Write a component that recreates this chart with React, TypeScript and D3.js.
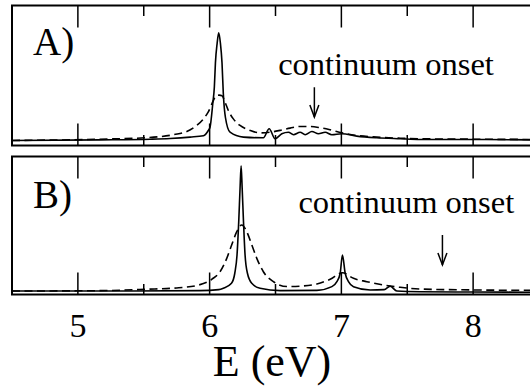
import React, { useEffect, useRef } from 'react';
import * as d3 from 'd3';

// energies (eV) and intensities (fraction of panel height)
const aSolid: [number, number][] = [
  [4.5, 0.036], [5.168, 0.04], [5.548, 0.045], [5.7, 0.05], [5.852, 0.06], [5.953, 0.07],
  [5.99, 0.107], [6.003, 0.13], [6.024, 0.3], [6.036, 0.42], [6.044, 0.59], [6.057, 0.73],
  [6.069, 0.805], [6.082, 0.73], [6.094, 0.59], [6.104, 0.37], [6.12, 0.2], [6.155, 0.095],
  [6.256, 0.06], [6.408, 0.055], [6.452, 0.12], [6.497, 0.048], [6.548, 0.084], [6.598, 0.095],
  [6.636, 0.077], [6.687, 0.095], [6.725, 0.077], [6.776, 0.1], [6.826, 0.084], [6.877, 0.095],
  [6.927, 0.077], [7.003, 0.084], [7.117, 0.067], [7.269, 0.055], [7.446, 0.048], [7.598, 0.043],
  [7.993, 0.043], [8.5, 0.04],
];

const aDashed: [number, number][] = [
  [4.5, 0.036], [5.168, 0.045], [5.51, 0.055], [5.73, 0.078], [5.827, 0.1], [5.902, 0.143],
  [5.953, 0.19], [5.99, 0.24], [6.028, 0.32], [6.049, 0.356], [6.072, 0.36], [6.094, 0.356],
  [6.117, 0.31], [6.142, 0.25], [6.18, 0.19], [6.231, 0.143], [6.307, 0.108], [6.383, 0.09],
  [6.459, 0.095], [6.535, 0.108], [6.611, 0.124], [6.687, 0.136], [6.763, 0.136], [6.839, 0.127],
  [6.915, 0.112], [7.003, 0.091], [7.117, 0.072], [7.269, 0.06], [7.446, 0.052], [7.598, 0.048],
  [7.993, 0.045], [8.5, 0.043],
];

const bSolid: [number, number][] = [
  [4.5, 0.025], [5.168, 0.025], [5.927, 0.028], [6.069, 0.035], [6.104, 0.045], [6.166, 0.081],
  [6.191, 0.154], [6.208, 0.286], [6.221, 0.53], [6.231, 0.77], [6.239, 0.933], [6.247, 0.77],
  [6.257, 0.53], [6.269, 0.286], [6.287, 0.154], [6.32, 0.081], [6.383, 0.045], [6.535, 0.028],
  [6.814, 0.03], [6.928, 0.057], [6.966, 0.093], [6.991, 0.154], [7.008, 0.286], [7.029, 0.154],
  [7.054, 0.093], [7.092, 0.057], [7.218, 0.033], [7.325, 0.035], [7.37, 0.06], [7.421, 0.025],
  [7.598, 0.02], [7.993, 0.018], [8.5, 0.016],
];

const bDashed: [number, number][] = [
  [4.5, 0.025], [5.168, 0.028], [5.512, 0.038], [5.766, 0.049], [5.918, 0.069], [6.016, 0.11],
  [6.079, 0.165], [6.13, 0.262], [6.168, 0.36], [6.206, 0.455], [6.244, 0.504], [6.282, 0.455],
  [6.32, 0.36], [6.358, 0.262], [6.408, 0.165], [6.484, 0.093], [6.586, 0.058], [6.712, 0.062],
  [6.814, 0.076], [6.915, 0.11], [7.008, 0.158], [7.092, 0.117], [7.193, 0.093], [7.319, 0.069],
  [7.446, 0.052], [7.598, 0.04], [7.993, 0.033], [8.5, 0.03],
];

const majorTicks = [5, 6, 7, 8];
const minorTicks = [4.5, 5.5, 6.5, 7.5, 8.5];
const tickLabels = ['5', '6', '7', '8'];

const panels = [
  { label: 'A)', solid: aSolid, dashed: aDashed, top: 5.5, bottom: 145.5, onsetE: 6.795, arrow: [0.416, 0.203], textE: 6.52, textY: 0.502 },
  { label: 'B)', solid: bSolid, dashed: bDashed, top: 156.5, bottom: 294.5, onsetE: 7.767, arrow: [0.431, 0.214], textE: 6.674, textY: 0.593 },
];

const App = () => {
  const svgRef = useRef<SVGSVGElement>(null);
  const width = 530;
  const height = 387;

  useEffect(() => {
    const svg = d3.select(svgRef.current);
    svg.selectAll('*').remove();

    const x = d3.scaleLinear().domain([4.5, 8.5]).range([12, 539]);
    const font = '"Liberation Serif", "Times New Roman", serif';

    panels.forEach(p => {
      const y = d3.scaleLinear().domain([0, 1]).range([p.bottom, p.top]);
      const g = svg.append('g');

      const line = d3.line<[number, number]>()
        .x(d => x(d[0]))
        .y(d => y(d[1]))
        .curve(d3.curveMonotoneX);

      g.append('path').datum(p.dashed)
        .attr('d', line)
        .attr('fill', 'none')
        .attr('stroke', '#000')
        .attr('stroke-width', 1.6)
        .attr('stroke-dasharray', '8,4.5');

      g.append('path').datum(p.solid)
        .attr('d', line)
        .attr('fill', 'none')
        .attr('stroke', '#000')
        .attr('stroke-width', 1.6);

      // frame
      g.append('rect')
        .attr('x', x(4.5))
        .attr('y', p.top)
        .attr('width', x(8.5) - x(4.5))
        .attr('height', p.bottom - p.top)
        .attr('fill', 'none')
        .attr('stroke', '#000')
        .attr('stroke-width', 2);

      // inward ticks top and bottom
      const ticks = [
        ...majorTicks.map(v => ({ v, len: 22 })),
        ...minorTicks.map(v => ({ v, len: 10.5 })),
      ];
      ticks.forEach(t => {
        g.append('line')
          .attr('x1', x(t.v)).attr('x2', x(t.v))
          .attr('y1', p.top).attr('y2', p.top + t.len)
          .attr('stroke', '#000').attr('stroke-width', 1.5);
        g.append('line')
          .attr('x1', x(t.v)).attr('x2', x(t.v))
          .attr('y1', p.bottom).attr('y2', p.bottom - t.len)
          .attr('stroke', '#000').attr('stroke-width', 1.5);
      });

      g.append('text')
        .attr('x', 33)
        .attr('y', p.top + (p.label === 'A)' ? 49.5 : 51.8))
        .style('font-family', font)
        .style('font-size', '39px')
        .text(p.label);

      g.append('text')
        .attr('x', x(p.textE))
        .attr('y', y(p.textY))
        .style('font-family', font)
        .style('font-size', '32.5px')
        .text('continuum onset');

      // arrow
      const ax = x(p.onsetE);
      const y1 = y(p.arrow[0]);
      const y2 = y(p.arrow[1]);
      g.append('line')
        .attr('x1', ax).attr('x2', ax)
        .attr('y1', y1).attr('y2', y2)
        .attr('stroke', '#000').attr('stroke-width', 1.5);
      g.append('path')
        .attr('d', `M${ax - 4.5},${y2 - 12}L${ax},${y2}L${ax + 4.5},${y2 - 12}`)
        .attr('fill', 'none')
        .attr('stroke', '#000')
        .attr('stroke-width', 1.5);
    });

    // tick labels under panel B
    majorTicks.forEach((v, i) => {
      svg.append('text')
        .attr('x', x(v))
        .attr('y', 337)
        .attr('text-anchor', 'middle')
        .style('font-family', font)
        .style('font-size', '34px')
        .text(tickLabels[i]);
    });

    svg.append('text')
      .attr('x', 272)
      .attr('y', 376)
      .attr('text-anchor', 'middle')
      .style('font-family', font)
      .style('font-size', '44px')
      .text('E (eV)');
  }, []);

  return (
    <svg
      ref={svgRef}
      width={width}
      height={height}
      style={{ position: 'absolute', left: 0, top: 0, background: '#fff' }}
    />
  );
};

export default App;
